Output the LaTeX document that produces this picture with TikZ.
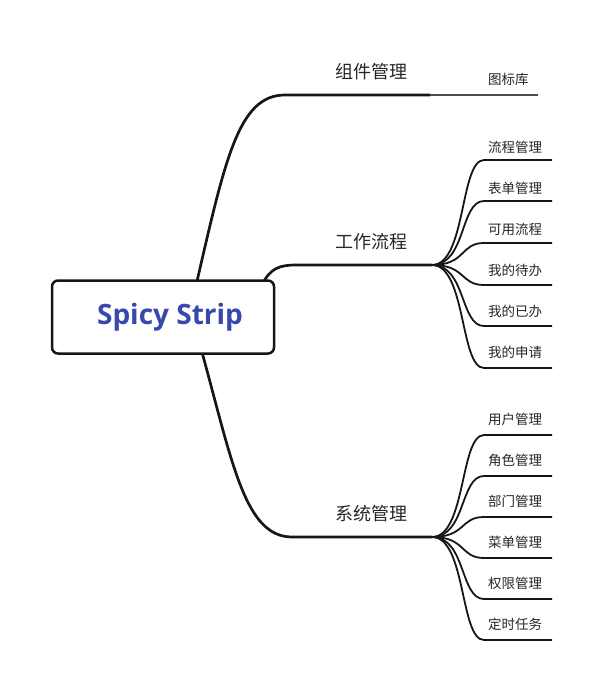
\documentclass[tikz,border=0pt]{standalone}
\usepackage{fontspec}
\setmainfont{Noto Sans CJK SC}
\newfontfamily\rootfont{Open Sans}
\definecolor{spiceblue}{RGB}{57,73,171}
\definecolor{inkline}{RGB}{22,22,22}

\tikzset{
  rootbox/.style={draw=inkline, line width=2.5pt, rounded corners=6pt, fill=white,
    minimum width=222pt, minimum height=73pt, text=spiceblue,
    font=\rootfont\bfseries\fontsize{28}{32}\selectfont},
  trunk/.style={draw=inkline, line width=2.7pt, line cap=round},
  twig/.style={draw=inkline, line width=1.8pt},
  topic/.style={font=\fontsize{18}{21}\selectfont, text=black!85, anchor=base, inner sep=0pt},
  leaf/.style={font=\fontsize{13.5}{15}\selectfont, text=black!85, anchor=base west, inner sep=0pt}
}

\begin{document}
\begin{tikzpicture}[x=1pt, y=-1pt]
\useasboundingbox (0,0) rectangle (602,691);

% branch points
\coordinate (hubA) at (430,95);
\coordinate (hubB) at (432,265);
\coordinate (hubC) at (432,537);

% trunks, drawn before the box
\draw[trunk] (195,290) .. controls (225,160) and (238,95) .. (285,95) -- (hubA);
\draw[trunk] (262,285) .. controls (270,268) and (280,265) .. (296,265) -- (hubB);
\draw[trunk] (200,345) .. controls (232,460) and (244,537) .. (292,537) -- (hubC);

\node[rootbox] (root) at (163,317) {\hspace*{14pt}Spicy Strip};

\node[topic] (zujian) at (371,78.5) {组件管理};
\node[topic] (liucheng) at (371,248) {工作流程};
\node[topic] (xitong) at (371,520) {系统管理};

% 组件管理
\coordinate (endA1) at (538,95);
\draw[draw=black!70, line width=1.4pt] (hubA) -- (endA1);
\node[leaf] (tubiao) at (488,84) {图标库};

% 工作流程
\coordinate (endB1) at (552,160);
\coordinate (endB2) at (552,201);
\coordinate (endB3) at (552,243);
\coordinate (endB4) at (552,285);
\coordinate (endB5) at (552,326);
\coordinate (endB6) at (552,368);
\draw[twig] (hubB) .. controls +(34,0) and (460,160) .. (484,160) -- (endB1);
\draw[twig] (hubB) .. controls +(34,0) and (460,201) .. (484,201) -- (endB2);
\draw[twig] (hubB) .. controls +(34,0) and (460,243) .. (484,243) -- (endB3);
\draw[twig] (hubB) .. controls +(34,0) and (460,285) .. (484,285) -- (endB4);
\draw[twig] (hubB) .. controls +(34,0) and (460,326) .. (484,326) -- (endB5);
\draw[twig] (hubB) .. controls +(34,0) and (460,368) .. (484,368) -- (endB6);
\node[leaf] (lcgl) at (488,152) {流程管理};
\node[leaf] (bdgl) at (488,193) {表单管理};
\node[leaf] (kylc) at (488,234) {可用流程};
\node[leaf] (wddb) at (488,275) {我的待办};
\node[leaf] (wdyb) at (488,316) {我的已办};
\node[leaf] (wdsq) at (488,357) {我的申请};

% 系统管理
\coordinate (endC1) at (552,435);
\coordinate (endC2) at (552,476);
\coordinate (endC3) at (552,517);
\coordinate (endC4) at (552,558);
\coordinate (endC5) at (552,599);
\coordinate (endC6) at (552,640);
\draw[twig] (hubC) .. controls +(34,0) and (460,435) .. (484,435) -- (endC1);
\draw[twig] (hubC) .. controls +(34,0) and (460,476) .. (484,476) -- (endC2);
\draw[twig] (hubC) .. controls +(34,0) and (460,517) .. (484,517) -- (endC3);
\draw[twig] (hubC) .. controls +(34,0) and (460,558) .. (484,558) -- (endC4);
\draw[twig] (hubC) .. controls +(34,0) and (460,599) .. (484,599) -- (endC5);
\draw[twig] (hubC) .. controls +(34,0) and (460,640) .. (484,640) -- (endC6);
\node[leaf] (yhgl) at (488,424) {用户管理};
\node[leaf] (jsgl) at (488,465) {角色管理};
\node[leaf] (bmgl) at (488,506) {部门管理};
\node[leaf] (cdgl) at (488,547) {菜单管理};
\node[leaf] (qxgl) at (488,588) {权限管理};
\node[leaf] (dsrw) at (488,629) {定时任务};
\end{tikzpicture}
\end{document}
